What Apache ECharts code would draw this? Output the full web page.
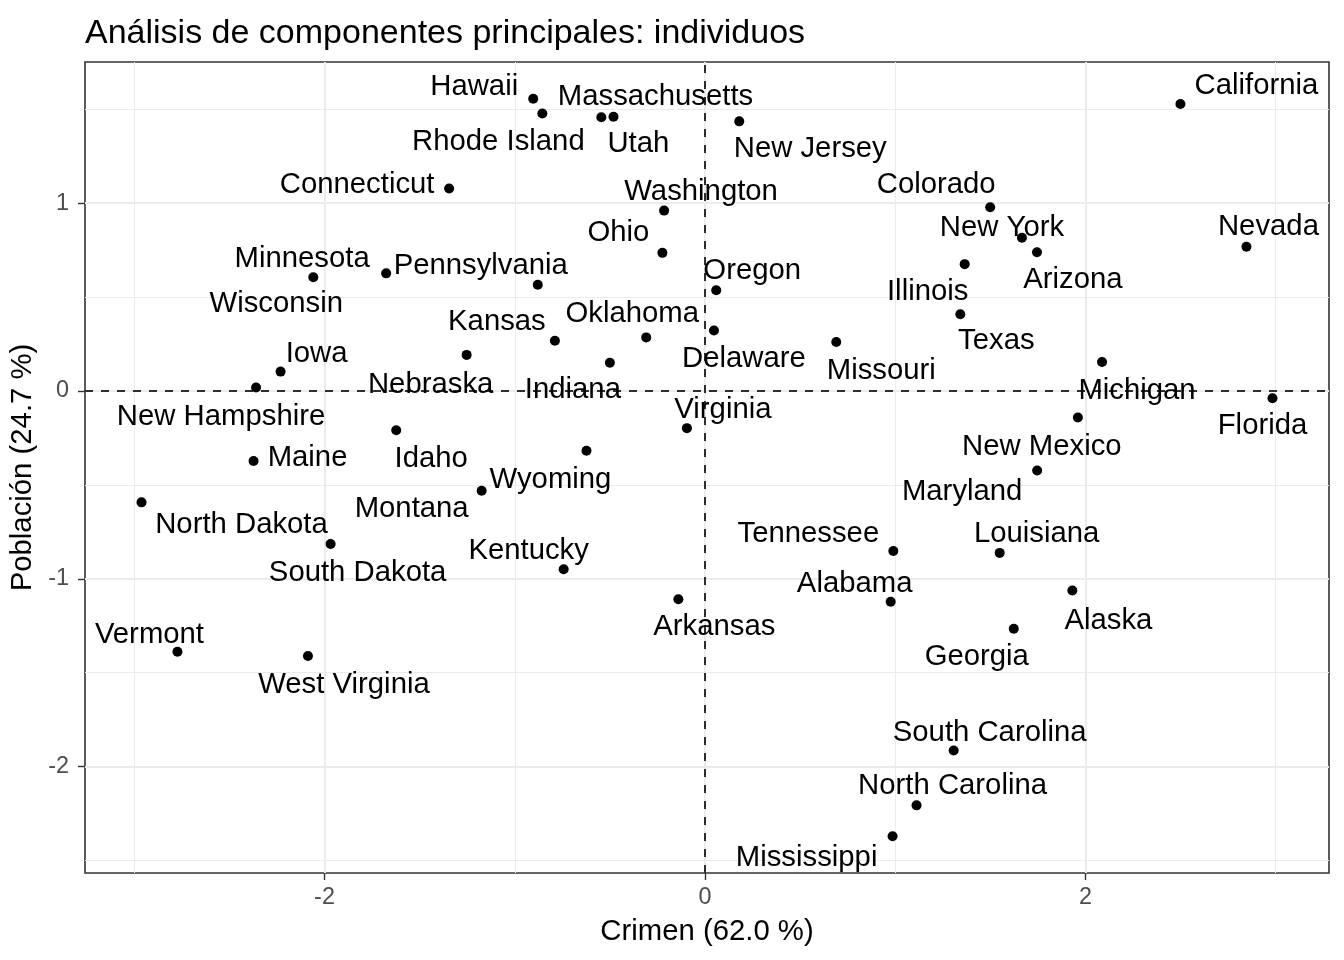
<!DOCTYPE html>
<html>
<head>
<meta charset="utf-8">
<script src="https://cdn.jsdelivr.net/npm/echarts@6/dist/echarts.min.js"></script>
<style>
  html, body { margin: 0; padding: 0; background: #fff; }
  #chart { width: 1344px; height: 960px; }
</style>
</head>
<body>
<div id="chart"></div>
<script>
// ---- data ----
const states = ["Alabama","Alaska","Arizona","Arkansas","California","Colorado","Connecticut","Delaware","Florida","Georgia","Hawaii","Idaho","Illinois","Indiana","Iowa","Kansas","Kentucky","Louisiana","Maine","Maryland","Massachusetts","Michigan","Minnesota","Mississippi","Missouri","Montana","Nebraska","Nevada","New Hampshire","New Jersey","New Mexico","New York","North Carolina","North Dakota","Ohio","Oklahoma","Oregon","Pennsylvania","Rhode Island","South Carolina","South Dakota","Tennessee","Texas","Utah","Vermont","Virginia","Washington","West Virginia","Wisconsin","Wyoming"];
const crimen = [0.976,1.931,1.745,-0.140,2.499,1.499,-1.345,0.047,2.983,1.623,-0.903,-1.623,1.365,-0.500,-2.231,-0.789,-0.743,1.549,-2.373,1.746,-0.481,2.087,-1.676,0.986,0.690,-1.174,-1.253,2.846,-2.360,0.180,1.960,1.666,1.112,-2.962,-0.224,-0.309,0.059,-0.879,-0.855,1.307,-1.968,0.990,1.342,-0.545,-2.773,-0.095,-0.215,-2.087,-2.059,-0.623];
const poblacion = [-1.122,-1.062,0.738,-1.109,1.527,0.978,1.078,0.322,-0.039,-1.266,1.555,-0.209,0.675,0.150,0.103,0.267,-0.949,-0.862,-0.373,-0.423,1.460,0.154,0.626,-2.370,0.261,-0.531,0.192,0.768,0.018,1.435,-0.141,0.815,-2.206,-0.593,0.735,0.285,0.536,0.565,1.477,-1.914,-0.815,-0.852,0.408,1.457,-1.388,-0.198,0.960,-1.411,0.605,-0.318];
const xTicks = [-2, 0, 2];
const yTicks = [-2, -1, 0, 1];
const xMinorGrid = [-3, -1, 1, 3];
const yMinorGrid = [-2.5, -1.5, -0.5, 0.5, 1.5];
const xRange = [-3.259, 3.280];
const yRange = [-2.566, 1.751];

// ---- label layout (repel-like pixel nudges, per state) ----
const labelNudge = {
  "Alabama":[-36,-21],"Alaska":[36,27],"Arizona":[36,25],"Arkansas":[36,25],"California":[76,-21],
  "Colorado":[-54,-25],"Connecticut":[-92,-7],"Delaware":[30,25],"Florida":[-10,25],"Georgia":[-37,25],
  "Hawaii":[-59,-15],"Idaho":[35,26],"Illinois":[-37,25],"Indiana":[-37,24],"Iowa":[36,-21],
  "Kansas":[-58,-22],"Kentucky":[-35,-21],"Louisiana":[37,-22],"Maine":[54,-6],"Maryland":[-75,19],
  "Massachusetts":[42,-23],"Michigan":[35,26],"Minnesota":[-84,-17],"Mississippi":[-86,19],"Missouri":[45,26],
  "Montana":[-70,15],"Nebraska":[-36,27],"Nevada":[22,-23],"New Hampshire":[-35,26],"New Jersey":[71,25],
  "New Mexico":[-36,26],"New York":[-20,-13],"North Carolina":[36,-22],"North Dakota":[100,20],"Ohio":[-44,-23],
  "Oklahoma":[-14,-26],"Oregon":[36,-22],"Pennsylvania":[-57,-22],"Rhode Island":[-44,25],"South Carolina":[36,-21],
  "South Dakota":[27,26],"Tennessee":[-85,-20],"Texas":[36,24],"Utah":[37,24],"Vermont":[-28,-20],
  "Virginia":[36,-21],"Washington":[37,-22],"West Virginia":[36,26],"Wisconsin":[-37,24],"Wyoming":[-36,26]
};
const labelBaselineShift = 3;

const FONT = "'Liberation Sans', Arial, Helvetica, sans-serif";

const points = states.map((s, i) => {
  const n = labelNudge[s] || [0, 0];
  return {
    name: s,
    value: [crimen[i], poblacion[i]],
    label: { offset: [n[0], n[1] + labelBaselineShift] }
  };
});

function vLines(vals) { return vals.map(v => ({ xAxis: v })); }
function hLines(vals) { return vals.map(v => ({ yAxis: v })); }

const chart = echarts.init(document.getElementById('chart'), null, { renderer: 'canvas' });
chart.setOption({
  animation: false,
  backgroundColor: '#ffffff',
  title: {
    text: 'Análisis de componentes principales: individuos',
    left: 80, top: 12,
    textStyle: { fontFamily: FONT, fontSize: 34, fontWeight: 'normal', color: '#000' }
  },
  grid: {
    left: 85, right: 15, top: 62, bottom: 87,
    show: true, borderColor: '#333333', borderWidth: 1.6, backgroundColor: 'transparent'
  },
  xAxis: {
    type: 'value', min: xRange[0], max: xRange[1],
    name: 'Crimen (62.0 %)', nameLocation: 'middle', nameGap: 44,
    nameTextStyle: { fontFamily: FONT, fontSize: 29.3, color: '#000' },
    axisLine: { show: false, onZero: false },
    axisTick: { show: true, customValues: xTicks, length: 7, lineStyle: { color: '#333333', width: 1.4 } },
    axisLabel: { customValues: xTicks, margin: 13, fontFamily: FONT, fontSize: 23.4, color: '#4D4D4D',
      formatter: v => String(v) },
    splitLine: { show: false }
  },
  yAxis: {
    type: 'value', min: yRange[0], max: yRange[1],
    name: 'Población (24.7 %)', nameLocation: 'middle', nameGap: 36,
    nameTextStyle: { fontFamily: FONT, fontSize: 29.3, color: '#000' },
    axisLine: { show: false, onZero: false },
    axisTick: { show: true, customValues: yTicks, length: 7, lineStyle: { color: '#333333', width: 1.4 } },
    axisLabel: { customValues: yTicks, margin: 16, fontFamily: FONT, fontSize: 23.4, color: '#4D4D4D',
      formatter: v => String(v) },
    splitLine: { show: false }
  },
  series: [
    {
      type: 'scatter', data: [], z: 1, silent: true,
      markLine: {
        z: 1,
        silent: true, symbol: ['none', 'none'], label: { show: false }, animation: false,
        lineStyle: { color: '#EBEBEB', width: 1, type: 'solid', opacity: 1 },
        emphasis: { disabled: true },
        data: vLines(xMinorGrid).concat(hLines(yMinorGrid))
      }
    },
    {
      type: 'scatter', data: [], z: 2, silent: true,
      markLine: {
        z: 2,
        silent: true, symbol: ['none', 'none'], label: { show: false }, animation: false,
        lineStyle: { color: '#EBEBEB', width: 2, type: 'solid', opacity: 1 },
        emphasis: { disabled: true },
        data: vLines(xTicks).concat(hLines(yTicks))
      }
    },
    {
      type: 'scatter', data: [], z: 3, silent: true,
      markLine: {
        z: 3,
        silent: true, symbol: ['none', 'none'], label: { show: false }, animation: false,
        lineStyle: { color: '#000000', width: 1.6, type: [8, 8], opacity: 1 },
        emphasis: { disabled: true },
        data: [{ xAxis: 0 }, { yAxis: 0 }]
      }
    },
    {
      type: 'scatter', z: 10, silent: true,
      symbol: 'circle', symbolSize: 10,
      itemStyle: { color: '#000000', opacity: 1 },
      label: {
        show: true, position: 'inside', formatter: p => p.name,
        fontFamily: FONT, fontSize: 29.3, color: '#000000', opacity: 1,
        align: 'center', verticalAlign: 'middle'
      },
      emphasis: { disabled: true },
      data: points
    }
  ]
});
</script>
</body>
</html>
